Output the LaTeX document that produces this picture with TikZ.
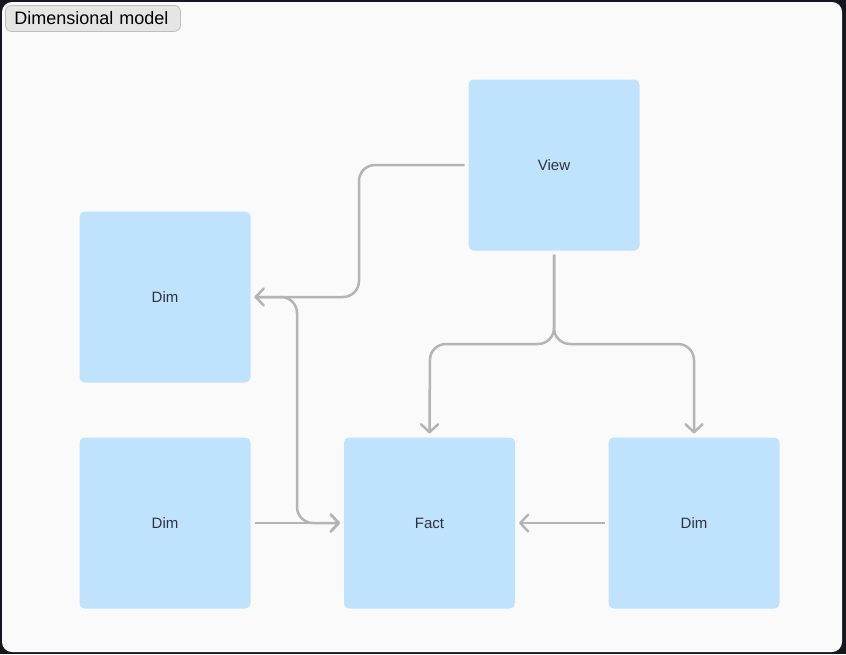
\documentclass[tikz,border=0pt]{standalone}
\usepackage{fontspec}
\setmainfont{Liberation Sans}
\usetikzlibrary{arrows.meta}
\definecolor{frameout}{HTML}{16161E}
\definecolor{panel}{HTML}{FAFAFA}
\definecolor{boxfill}{HTML}{BFE3FD}
\definecolor{link}{HTML}{B4B4B4}
\definecolor{tagfill}{HTML}{E5E5E5}
\definecolor{tagline}{HTML}{BDBDBD}
\definecolor{labeltext}{HTML}{2B3340}
\tikzset{
  table/.style={fill=boxfill, draw=none, rounded corners=5pt, minimum width=171pt,
    minimum height=171pt, inner sep=0pt, outer sep=4pt, font=\fontsize{15}{17}\selectfont,
    text=labeltext},
  link/.style={draw=link, line width=2.5pt, rounded corners=16pt,
    -{Straight Barb[length=8pt,width=17pt,round]}}
}
\begin{document}
\begin{tikzpicture}[x=1pt,y=-1pt]
  % page and panel
  \fill[frameout] (0,0) rectangle (846,654);
  \fill[panel, rounded corners=10pt] (2,2) rectangle (842,652);
  \useasboundingbox (0,0) rectangle (846,654);

  % title tag
  \node[fill=tagfill, draw=tagline, line width=0.8pt, rounded corners=6pt,
        minimum width=175pt, minimum height=26pt, inner xsep=9pt, inner ysep=0pt,
        anchor=north west, text width=157pt, align=left,
        font=\fontsize{18}{20}\selectfont] (tag) at (5,5) {Dimensional model};

  % tables
  \node[table] (view) at (554,165) {View};
  \node[table] (dimA) at (165,297) {Dim};
  \node[table] (dimB) at (165,523) {Dim};
  \node[table] (fact) at (429.5,523) {Fact};
  \node[table] (dimC) at (694,523) {Dim};

  % bend points
  \coordinate (bendA) at (359,230);
  \coordinate (bendB) at (297,410);
  \coordinate (forkL) at (430,344);
  \coordinate (forkR) at (694,344);

  % links
  \draw[link] (view.west) -| (bendA) |- (dimA.east);
  \draw[link] (dimA.east) -| (bendB) |- (fact.west);
  \draw[link] (dimB.east) -- (fact.west);
  \draw[link] (dimC.west) -- (fact.east);
  \draw[link] (view.south) |- (forkL) -- (fact.north);
  \draw[link] (view.south) |- (forkR) -- (dimC.north);
\end{tikzpicture}
\end{document}
